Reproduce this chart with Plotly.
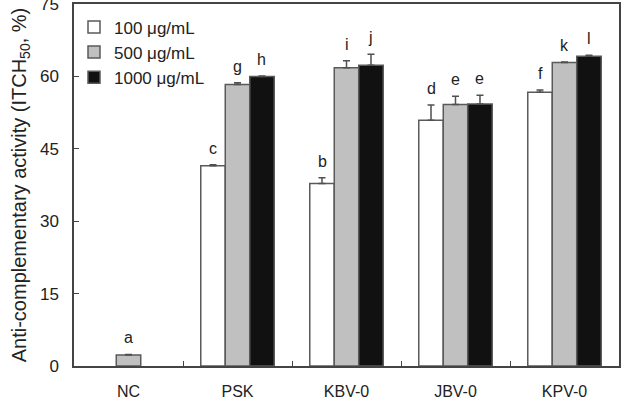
import plotly.graph_objects as go

categories = ["NC", "PSK", "KBV-0", "JBV-0", "KPV-0"]
series_names = ["100 μg/mL", "500 μg/mL", "1000 μg/mL"]
vals_100 = [None, 41.5, 37.8, 50.9, 56.7]
vals_500 = [2.3, 58.3, 61.8, 54.2, 62.9]
vals_1000 = [None, 60.0, 62.3, 54.3, 64.2]
err_100 = [0, 0.2, 1.2, 3.2, 0.5]
err_500 = [0.1, 0.4, 1.45, 1.7, 0.1]
err_1000 = [0, 0.1, 2.3, 1.8, 0.2]
letters_100 = ["", "c", "b", "d", "f"]
letters_500 = ["a", "g", "i", "e", "k"]
letters_1000 = ["", "h", "j", "e", "l"]
y_ticks = [0, 15, 30, 45, 60, 75]

FONT = "Liberation Sans, Arial, sans-serif"
fills = ["#ffffff", "#c0c0c0", "#111111"]
bargap = 0.326

series = [
    (vals_100, err_100, letters_100),
    (vals_500, err_500, letters_500),
    (vals_1000, err_1000, letters_1000),
]

fig = go.Figure()
for i, (vals, errs, _) in enumerate(series):
    fig.add_trace(go.Bar(
        x=categories, y=vals, name=series_names[i],
        marker=dict(color=fills[i], line=dict(color="#5a5a5a", width=1.5)),
        error_y=dict(type="data", array=errs, arrayminus=[0] * len(errs),
                     symmetric=False, visible=True, color="#505050",
                     thickness=1.5, width=3.5),
    ))

# letters above error bars
n = len(series)
bw = (1 - bargap) / n
annotations = []
for i, (vals, errs, letters) in enumerate(series):
    off = (i - (n - 1) / 2) * bw
    for j, (v, e, t) in enumerate(zip(vals, errs, letters)):
        if v is None or not t:
            continue
        annotations.append(dict(
            x=j + off, y=v + e, xref="x", yref="y", text=t, showarrow=False,
            yanchor="bottom", yshift=6, font=dict(family=FONT, size=16, color="#222"),
        ))

fig.update_layout(
    width=635, height=399,
    margin=dict(l=74, r=16, t=4, b=33, autoexpand=False),
    paper_bgcolor="white", plot_bgcolor="white",
    barmode="group", bargap=bargap, bargroupgap=0,
    font=dict(family=FONT, size=16, color="#222"),
    annotations=annotations,
    showlegend=True,
    legend=dict(x=0.0, y=0.985, xanchor="left", yanchor="top",
                bgcolor="rgba(0,0,0,0)", font=dict(size=17, color="#222"),
                itemwidth=30, tracegroupgap=0),
)
fig.update_xaxes(
    range=[-0.5, 4.5], showline=True, linecolor="#444", linewidth=1.5, mirror=True,
    ticks="inside", ticklen=5, tickcolor="#444", tickson="boundaries",
    showgrid=False, tickfont=dict(size=16), ticklabelstandoff=10, automargin=False,
)
fig.update_yaxes(
    range=[0, 75], tickvals=y_ticks, showline=True, linecolor="#444", linewidth=1.5,
    mirror=True, ticks="inside", ticklen=5, tickcolor="#444", showgrid=False,
    zeroline=False, tickfont=dict(size=17), ticklabelstandoff=10, automargin=False,
    ticklabeloverflow="allow",
    title=dict(text="Anti-complementary activity (ITCH<sub>50</sub>, %)",
               font=dict(size=20), standoff=8),
)
fig.write_html("out.html")
